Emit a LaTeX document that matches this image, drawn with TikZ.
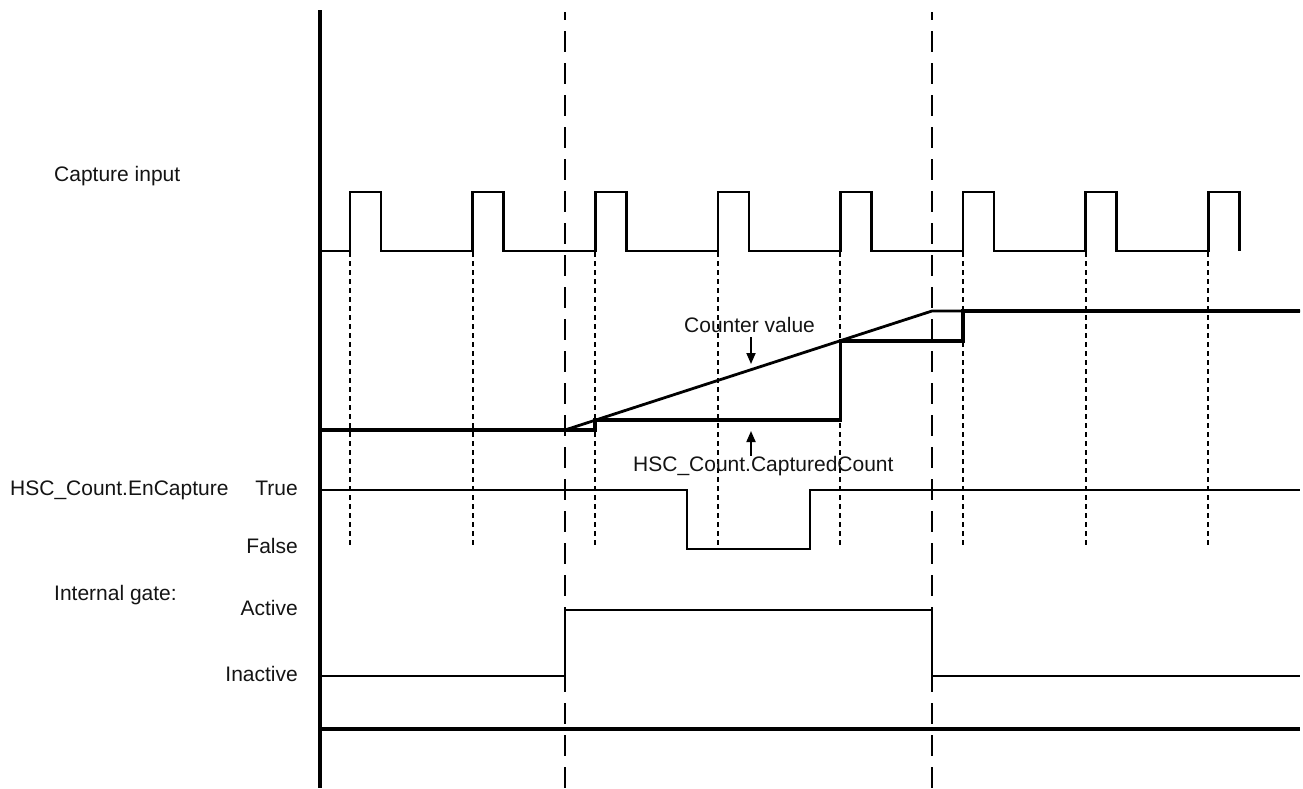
\documentclass[tikz,border=0pt]{standalone}
\usepackage{fontspec}
\setmainfont{Liberation Sans}
\usetikzlibrary{arrows.meta}
\begin{document}
\begin{tikzpicture}[x=1pt,y=-1pt,
  lbl/.style={inner sep=0pt,font=\fontsize{21pt}{25pt}\selectfont,text=black!92},
  wave/.style={line width=2.6pt,line join=miter},
  thickwave/.style={line width=3.8pt,line join=miter},
  longdash/.style={line width=2.1pt,dash pattern=on 21pt off 11pt,dash phase=13pt},
  dotline/.style={line width=2.1pt,dash pattern=on 5pt off 4pt},
  arr/.style={line width=1.8pt,-{Triangle[length=11pt,width=9pt]}}]
\useasboundingbox (0,0) rectangle (1303,788);
% long dashed markers
\draw[longdash] (565,12) -- (565,788);
\draw[longdash] (932,12) -- (932,788);
% dotted lines at rising edges
\foreach \i in {0,...,7}{
  \pgfmathsetmacro{\xr}{350+122.6*\i}
  \draw[dotline] (\xr,252) -- (\xr,546);
}
% axis
\draw[line width=3.8pt] (320,10) -- (320,788);
% capture input pulses
\draw[wave] (320,251)
  \foreach \i in {0,...,6}{
    -- ({350+122.6*\i},251) -- ({350+122.6*\i},192) -- ({381+122.6*\i},192) -- ({381+122.6*\i},251)
  } -- (1208.2,251) -- (1208.2,192) -- (1239.2,192) -- (1239.2,251);
% counter value ramp
\draw[line width=2.8pt,line join=miter] (565,430) -- (932,311) -- (1300,311);
% captured count
\draw[thickwave] (320,430) -- (595.2,430) -- (595.2,420.2) -- (840.4,420.2) -- (840.4,340.7)
  -- (963,340.7) -- (963,311) -- (1300,311);
% EnCapture
\draw[wave] (320,490) -- (687,490) -- (687,549) -- (810,549) -- (810,490) -- (1300,490);
% internal gate
\draw[wave] (320,676) -- (565,676) -- (565,610) -- (932,610) -- (932,676) -- (1300,676);
% bottom line
\draw[line width=4.2pt] (320,729) -- (1300,729);
% labels
\node[lbl,anchor=base west] (capin) at (54,181.5) {Capture input};
\node[lbl,anchor=base west] (encap) at (10,495) {HSC\_Count.EnCapture};
\node[lbl,anchor=base east] (true) at (298,495) {True};
\node[lbl,anchor=base east] (false) at (298,553) {False};
\node[lbl,anchor=base west] (gate) at (54,600.5) {Internal gate:};
\node[lbl,anchor=base east] (active) at (298,615.5) {Active};
\node[lbl,anchor=base east] (inactive) at (298,681) {Inactive};
\node[lbl,anchor=base west] (cv) at (684,332) {Counter value};
\node[lbl,anchor=base west] (cc) at (633,471) {HSC\_Count.CapturedCount};
% arrows
\coordinate (cvtip) at (751,364);
\coordinate (cctip) at (751,431);
\draw[arr] ([yshift=-5pt]cv.south -| cvtip) -- (cvtip);
\draw[arr] (cc.north -| cctip) -- (cctip);
\end{tikzpicture}
\end{document}
